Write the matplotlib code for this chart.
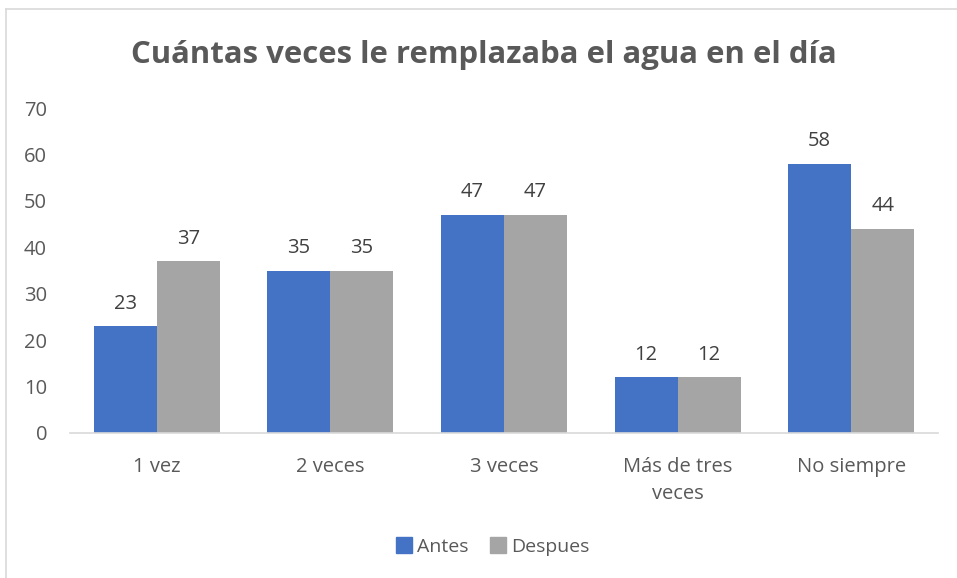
import matplotlib
matplotlib.use("Agg")
import matplotlib.pyplot as plt
import numpy as np
from matplotlib.lines import Line2D

categories = ["1 vez", "2 veces", "3 veces", "Más de tres\nveces", "No siempre"]
antes = [23, 35, 47, 12, 58]
despues = [37, 35, 47, 12, 44]
series_names = ["Antes", "Despues"]
title = "Cuántas veces le remplazaba el agua en el día"

FONT = "Open Sans"
plt.rcParams['font.family'] = [FONT, 'DejaVu Sans']

fig = plt.figure(figsize=(9.57, 5.78), dpi=100)
ax = fig.add_axes([70/957, 1-433/578, 868/957, 325/578])

x = np.arange(len(categories))
w = 0.363
b1 = ax.bar(x - w/2, antes, w, color="#4472C4", label=series_names[0])
b2 = ax.bar(x + w/2, despues, w, color="#A5A5A5", label=series_names[1])

for bars in (b1, b2):
    for r in bars:
        ax.annotate(f"{int(r.get_height())}", (r.get_x()+r.get_width()/2, r.get_height()),
                    xytext=(0, 9), textcoords="offset points", ha="center", va="bottom",
                    fontsize=14.5, color="#404040")

ax.set_xlim(-0.5, len(categories)-0.5)
ax.set_ylim(0, 70)
ax.set_yticks(range(0, 71, 10))
ax.set_xticks(x)
ax.set_xticklabels(categories, linespacing=1.5)
ax.tick_params(axis='both', length=0, labelsize=14.5, labelcolor="#595959")
ax.tick_params(axis='y', pad=16.5)
ax.tick_params(axis='x', pad=17)
for s in ["top", "right", "left"]:
    ax.spines[s].set_visible(False)
ax.spines["bottom"].set_color("#D9D9D9")
ax.spines["bottom"].set_linewidth(1.2)

fig.text(484/957, 1-55/578, title, ha="center", va="center", fontsize=22.4,
         fontweight="bold", color="#595959")

handles = [Line2D([], [], marker='s', linestyle='none', markersize=11, color="#4472C4"),
           Line2D([], [], marker='s', linestyle='none', markersize=11, color="#A5A5A5")]
fig.legend(handles, series_names, loc="center", bbox_to_anchor=(492/957, 1-547/578),
           ncol=2, frameon=False, fontsize=14, labelcolor="#595959",
           handletextpad=0.2, columnspacing=1.0, handlelength=1.0)

fig.add_artist(Line2D([6/957, 6/957], [0, 1-9/578], transform=fig.transFigure, color="#D9D9D9", lw=1.2))
fig.add_artist(Line2D([6/957, 1], [1-9/578, 1-9/578], transform=fig.transFigure, color="#D9D9D9", lw=1.2))

fig.savefig("out.png", dpi=100, facecolor="white")
